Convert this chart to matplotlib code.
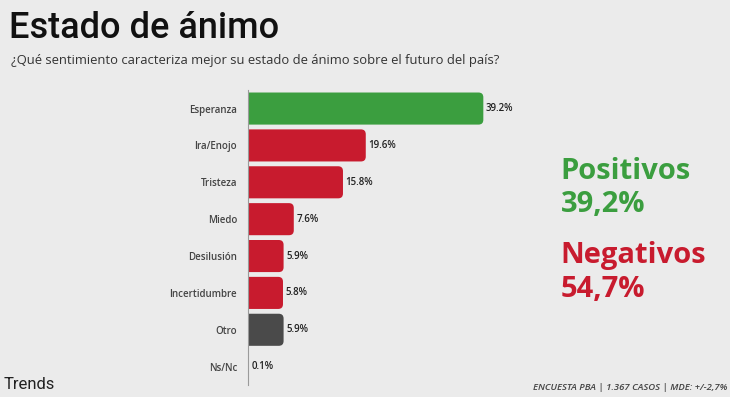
import matplotlib
matplotlib.use("Agg")
import matplotlib.pyplot as plt
from matplotlib.patches import FancyBboxPatch

plt.rcParams["font.family"] = ["Open Sans", "DejaVu Sans"]

# data
categories = ["Esperanza", "Ira/Enojo", "Tristeza", "Miedo", "Desilusión",
              "Incertidumbre", "Otro", "Ns/Nc"]
values = [39.2, 19.6, 15.8, 7.6, 5.9, 5.8, 5.9, 0.1]
groups = ["pos", "neg", "neg", "neg", "neg", "neg", "otro", "otro"]
summary_labels = ["Positivos", "Negativos"]
summary_values = ["39,2%", "54,7%"]

BG = "#ebebeb"
C_POS = "#3b9e3f"
C_NEG = "#c81b2e"
C_OTRO = "#4a4a4a"
colors = {"pos": C_POS, "neg": C_NEG, "otro": C_OTRO}

fig = plt.figure(figsize=(7.3, 3.97), dpi=100, facecolor=BG)
ax = fig.add_axes([0.340, 0.030, 0.493, 0.743])
ax.set_facecolor(BG)

ypos = list(range(len(categories)))
bars = ax.barh(ypos, values, height=0.87, left=0, color="none")

# rounded versions of each bar (left corners hidden behind the axis)
for b, g in zip(bars, groups):
    x0, y0 = b.get_x(), b.get_y()
    w, h = b.get_width(), b.get_height()
    if w < 0.5:
        continue
    p = FancyBboxPatch((x0 - 2, y0), w + 2, h,
                       boxstyle="round,pad=0,rounding_size=0.8",
                       mutation_aspect=0.163,
                       facecolor=colors[g], edgecolor="none")
    ax.add_patch(p)

for y, v in zip(ypos, values):
    ax.text(v + 0.4, y, f"{v:.1f}%", va="center", ha="left",
            fontsize=7, fontweight="semibold", color="#222222")

ax.set_xlim(0, 60)
ax.set_ylim(len(categories) - 0.5, -0.5)
ax.set_yticks(ypos)
ax.set_yticklabels(categories, fontsize=7, color="#444444", fontweight="semibold")
ax.tick_params(axis="y", length=0, pad=8)
ax.set_xticks([])
for s in ["top", "right", "bottom"]:
    ax.spines[s].set_visible(False)
ax.spines["left"].set_color("#9a9a9a")
ax.spines["left"].set_linewidth(0.8)

# titles
fig.text(0.012, 0.905, "Estado de ánimo", fontsize=26, fontweight="medium",
         color="#111111", ha="left", va="baseline", family=["Roboto", "DejaVu Sans"])
fig.text(0.015, 0.838, "¿Qué sentimiento caracteriza mejor su estado de ánimo sobre el futuro del país?",
         fontsize=9.4, color="#333333", ha="left", va="baseline")

# summary
fig.text(0.768, 0.549, summary_labels[0], fontsize=21, fontweight="bold",
         color=C_POS, ha="left", va="baseline")
fig.text(0.768, 0.466, summary_values[0], fontsize=21, fontweight="bold",
         color=C_POS, ha="left", va="baseline")
fig.text(0.768, 0.337, summary_labels[1], fontsize=21, fontweight="bold",
         color=C_NEG, ha="left", va="baseline")
fig.text(0.768, 0.252, summary_values[1], fontsize=21, fontweight="bold",
         color=C_NEG, ha="left", va="baseline")

# footer
fig.text(0.005, 0.02, "Trends", fontsize=12, color="#222222",
         ha="left", va="baseline", family=["Roboto", "DejaVu Sans"])
fig.text(0.997, 0.018, "ENCUESTA PBA | 1.367 CASOS | MDE: +/-2,7%",
         fontsize=6.8, style="italic", fontweight="semibold", color="#444444",
         ha="right", va="baseline")

fig.savefig("out.png", dpi=100, facecolor=BG)
